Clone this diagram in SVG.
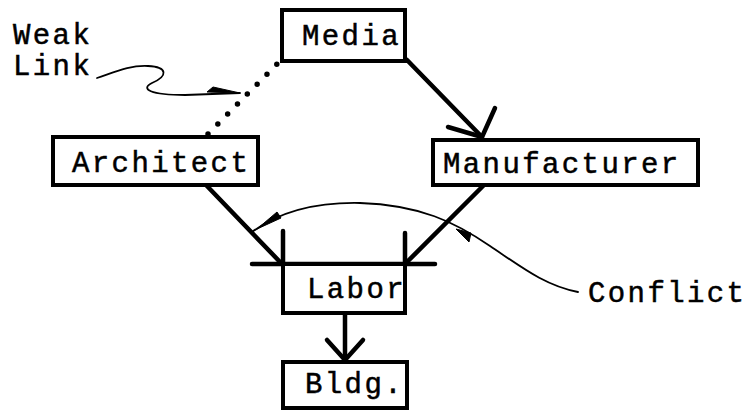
<svg xmlns="http://www.w3.org/2000/svg" width="747" height="411" viewBox="0 0 747 411">
  <style>
    .box { fill: #fff; stroke: #000; stroke-width: 4; }
    .lbl { font-family: "Liberation Mono", "Courier New", monospace; font-size: 29px; letter-spacing: 2.4px; fill: #000; stroke: #000; stroke-width: 0.5; }
    .edge { fill: none; stroke: #000; stroke-width: 4.5; stroke-linecap: round; stroke-linejoin: round; }
    .thin { fill: none; stroke: #000; stroke-width: 1.8; stroke-linecap: round; }
    .dots { fill: none; stroke: #000; stroke-width: 5.5; stroke-linecap: round; stroke-dasharray: 0 14; }
    .barb { fill: #000; stroke: #000; stroke-width: 1; stroke-linejoin: round; }
  </style>
  <rect width="747" height="411" fill="#fff"/>

  <g id="connectors">
    <!-- weak link: dotted line Architect to Media -->
    <line class="dots" x1="208" y1="134" x2="277" y2="64"/>
    <!-- Media to Manufacturer -->
    <line class="edge" x1="407" y1="60" x2="482" y2="137"/>
    <polyline class="edge" points="448,127 482,137 495,108"/>
    <!-- Architect to Labor -->
    <line class="edge" x1="207" y1="186" x2="281" y2="263"/>
    <!-- Manufacturer to Labor -->
    <line class="edge" x1="485" y1="184" x2="406" y2="263"/>
    <!-- Labor intake bar and uprights -->
    <line class="edge" x1="252" y1="264" x2="435" y2="264"/>
    <line class="edge" x1="283" y1="231" x2="283" y2="264"/>
    <line class="edge" x1="405" y1="233" x2="405" y2="264"/>
    <!-- Labor to Bldg. -->
    <line class="edge" x1="345" y1="313" x2="345" y2="360"/>
    <polyline class="edge" points="327,340 345,360 363,340"/>
  </g>

  <g id="weak-link-note">
    <text class="lbl" x="13" y="44">Weak</text>
    <text class="lbl" x="13" y="75">Link</text>
    <path class="thin" d="M97,78 C115,72 130,65 148,66 C168,67 168,76 152,83 C140,89 150,95 185,95 L240,93"/>
    <polygon class="barb" points="207,92 213,87 240,93"/>
  </g>

  <g id="conflict-note">
    <text class="lbl" x="588" y="302">Conflict</text>
    <path class="thin" d="M578,292 C545,286 520,266 490,246 C455,222 420,205 360,203 C310,202 275,215 252,232"/>
    <polygon class="barb" points="257,229 277,212 281,218"/>
    <polygon class="barb" points="456,229 471,233 469,242"/>
  </g>

  <g id="media">
    <rect class="box" x="282" y="10" width="123" height="51"/>
    <text class="lbl" x="302" y="45">Media</text>
  </g>
  <g id="architect">
    <rect class="box" x="53" y="137" width="205" height="48"/>
    <text class="lbl" x="72" y="172">Architect</text>
  </g>
  <g id="manufacturer">
    <rect class="box" x="433" y="140" width="265" height="45"/>
    <text class="lbl" x="443" y="173">Manufacturer</text>
  </g>
  <g id="labor">
    <rect class="box" x="283" y="264" width="122" height="49"/>
    <text class="lbl" x="307" y="298">Labor</text>
  </g>
  <g id="bldg">
    <rect class="box" x="283" y="362" width="124" height="46"/>
    <text class="lbl" x="305" y="393">Bldg.</text>
  </g>
</svg>
